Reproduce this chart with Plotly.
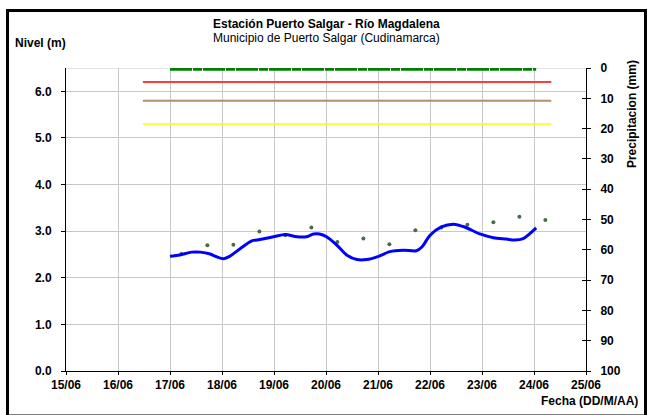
import plotly.graph_objects as go

# ---- data ----
level_times = [
    "2024-06-17 00:00", "2024-06-17 04:30", "2024-06-17 10:00", "2024-06-17 14:00",
    "2024-06-17 18:30", "2024-06-17 21:30", "2024-06-18 00:45", "2024-06-18 03:30",
    "2024-06-18 08:30", "2024-06-18 13:45", "2024-06-18 17:30", "2024-06-18 23:45",
    "2024-06-19 05:15", "2024-06-19 10:30", "2024-06-19 15:00", "2024-06-19 18:15",
    "2024-06-19 21:00", "2024-06-20 00:15", "2024-06-20 05:00", "2024-06-20 09:30",
    "2024-06-20 14:15", "2024-06-20 18:45", "2024-06-21 00:15", "2024-06-21 05:30",
    "2024-06-21 11:45", "2024-06-21 17:45", "2024-06-21 20:15", "2024-06-22 00:00",
    "2024-06-22 05:15", "2024-06-22 10:45", "2024-06-22 16:00", "2024-06-22 23:00",
    "2024-06-23 05:15", "2024-06-23 11:15", "2024-06-23 15:00", "2024-06-23 19:00",
    "2024-06-24 01:00",
]
level_values = [
    2.46, 2.49, 2.55, 2.55, 2.51, 2.45, 2.41, 2.46, 2.63, 2.79, 2.82, 2.88,
    2.93, 2.88, 2.88, 2.94, 2.94, 2.88, 2.70, 2.49, 2.39, 2.39, 2.46, 2.56,
    2.59, 2.58, 2.66, 2.91, 3.09, 3.15, 3.09, 2.94, 2.86, 2.83, 2.81, 2.84,
    3.07,
]

point_times = [
    "2024-06-17 05:15", "2024-06-17 17:15", "2024-06-18 05:15", "2024-06-18 17:15",
    "2024-06-19 05:15", "2024-06-19 17:15", "2024-06-20 05:15", "2024-06-20 17:15",
    "2024-06-21 05:15", "2024-06-21 17:15", "2024-06-22 05:15", "2024-06-22 17:15",
    "2024-06-23 05:15", "2024-06-23 17:15", "2024-06-24 05:15",
]
point_values = [2.51, 2.70, 2.71, 2.99, 2.91, 3.08, 2.77, 2.84, 2.72, 3.02,
                3.08, 3.14, 3.19, 3.31, 3.24]

threshold_times = ["2024-06-16 11:30", "2024-06-24 08:00"]
threshold_red = 6.2
threshold_brown = 5.8
threshold_yellow = 5.3

precip_times = ["2024-06-17 00:00", "2024-06-24 01:00"]
precip_values = [0.4, 0.4]

date_ticks = ["2024-06-%02d" % d for d in range(15, 26)]
date_ticktext = ["%02d/06" % d for d in range(15, 26)]
level_ticks = [0, 1, 2, 3, 4, 5, 6]
precip_ticks = list(range(0, 101, 10))

# ---- figure ----
FONT = "Liberation Sans, Arial, sans-serif"
fig = go.Figure()

fig.add_trace(go.Scatter(x=precip_times, y=precip_values, yaxis="y2", mode="lines",
                         line=dict(color="#008000", width=3, dash="22px,1px,9px,1px"),
                         showlegend=False, hoverinfo="skip"))

for val, col, w in [(threshold_red, "#FF3B3B", 2), (threshold_brown, "#B0906E", 2),
                    (threshold_yellow, "#FFFF00", 1.5)]:
    fig.add_trace(go.Scatter(x=threshold_times, y=[val, val], mode="lines",
                             line=dict(color=col, width=w), showlegend=False))

fig.add_trace(go.Scatter(x=point_times, y=point_values, mode="markers",
                         marker=dict(color="#4A6B4A", size=4), showlegend=False))

fig.add_trace(go.Scatter(x=level_times, y=level_values, mode="lines",
                         line=dict(color="#0000FF", width=3, shape="spline", smoothing=0.8),
                         showlegend=False))

# dummy trace to carry the inside-tick axis
fig.add_trace(go.Scatter(x=[date_ticks[0]], y=[0], yaxis="y3", mode="markers",
                         marker=dict(opacity=0), showlegend=False, hoverinfo="skip"))

tickfont = dict(family=FONT, size=12, color="black", weight="bold")

fig.update_layout(
    width=648, height=415,
    margin=dict(l=66, r=62, t=68, b=44),
    paper_bgcolor="white", plot_bgcolor="white",
    xaxis=dict(type="date", range=[date_ticks[0], date_ticks[-1]],
               tickvals=date_ticks, ticktext=date_ticktext,
               showgrid=True, gridcolor="#C8C8C8", gridwidth=1,
               showline=True, linecolor="black", linewidth=1,
               ticks="outside", ticklen=3, tickcolor="black",
               tickfont=tickfont, zeroline=False),
    yaxis=dict(range=[0, 6.5], tickvals=level_ticks, tickformat=".1f",
               showgrid=True, gridcolor="#C8C8C8", gridwidth=1,
               showline=True, linecolor="black", linewidth=1,
               ticks="outside", ticklen=4, tickcolor="black",
               tickfont=tickfont, zeroline=False, ticklabelstandoff=7),
    yaxis2=dict(range=[100, 0], tickvals=precip_ticks, overlaying="y", side="right",
                anchor="x", showgrid=False, showline=True, linecolor="black", linewidth=1,
                ticks="outside", ticklen=4, tickcolor="black", tickfont=tickfont,
                zeroline=False, ticklabelstandoff=7),
    yaxis3=dict(range=[100, 0], tickvals=precip_ticks, overlaying="y", side="right",
                anchor="x", showgrid=False, showline=False, showticklabels=False,
                ticks="inside", ticklen=4, tickcolor="black", zeroline=False),
    shapes=[
        dict(type="line", xref="paper", yref="y", x0=0, x1=1, y0=6.5, y1=6.5,
             line=dict(color="#C8C8C8", width=1), layer="below"),
        dict(type="rect", xref="paper", yref="paper", x0=-0.1125, x1=1.1144,
             y0=-0.1485, y1=1.1898, line=dict(color="black", width=3)),
    ],
    annotations=[
        dict(text="<b>Estación Puerto Salgar - Río Magdalena</b>", xref="paper", yref="paper",
             x=0.5, y=1.145, xanchor="center", yanchor="middle", showarrow=False,
             font=dict(family=FONT, size=12, color="black")),
        dict(text="Municipio de Puerto Salgar (Cudinamarca)", xref="paper", yref="paper",
             x=0.5, y=1.099, xanchor="center", yanchor="middle", showarrow=False,
             font=dict(family=FONT, size=12, color="black")),
        dict(text="<b>Nivel (m)</b>", xref="paper", yref="paper",
             x=-0.1019, y=1.0825, xanchor="left", yanchor="middle", showarrow=False,
             font=dict(family=FONT, size=12, color="black")),
        dict(text="<b>Precipitacion (mm)</b>", xref="paper", yref="paper",
             x=1.0885, y=0.848, xanchor="center", yanchor="middle", showarrow=False,
             textangle=-90, font=dict(family=FONT, size=12, color="black")),
        dict(text="<b>Fecha (DD/M/AA)</b>", xref="paper", yref="paper",
             x=1.1038, y=-0.099, xanchor="right", yanchor="middle", showarrow=False,
             font=dict(family=FONT, size=12, color="black")),
    ],
)

fig.write_html("out.html", config={"displayModeBar": False},
               post_script="document.body.style.margin='0';")
